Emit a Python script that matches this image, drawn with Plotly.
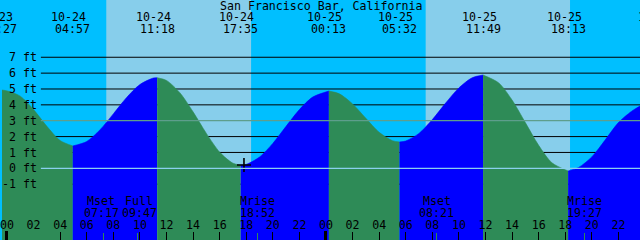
import plotly.graph_objects as go

TITLE = "San Francisco Bar, California"

# Tide level (hours after 10-24 00:00, feet)
CURVE_T = [-1.0, -0.55, 0.0, 1.0, 2.0, 3.0, 4.0, 4.95,
           6.0, 7.0, 8.0, 9.0, 10.0, 11.0, 11.30,
           12.0, 13.0, 14.0, 15.0, 16.0, 17.0, 17.583,
           18.0, 19.0, 20.0, 21.0, 22.0, 23.0, 24.217,
           25.0, 26.0, 27.0, 28.0, 29.0, 29.533,
           30.0, 31.0, 32.0, 33.0, 34.0, 35.0, 35.817,
           37.0, 38.0, 39.0, 40.0, 41.0, 42.217,
           43.0, 44.0, 45.0, 46.0, 47.0, 48.0]
CURVE_H = [4.90, 4.95, 4.88, 4.55, 3.70, 2.65, 1.75, 1.41,
           1.69, 2.43, 3.43, 4.46, 5.28, 5.69, 5.71,
           5.54, 4.77, 3.56, 2.20, 1.02, 0.32, 0.20,
           0.245, 0.71, 1.57, 2.65, 3.70, 4.49, 4.87,
           4.70, 4.06, 3.15, 2.27, 1.74, 1.66,
           1.72, 2.20, 3.07, 4.11, 5.07, 5.71, 5.88,
           5.38, 4.30, 2.88, 1.45, 0.35, -0.17,
           0.05, 0.72, 1.78, 2.88, 3.60, 4.10]

# High / low tide events
TIDE_T = [-0.55, 4.95, 11.30, 17.583, 24.217, 29.533, 35.817, 42.217, 49.09]
TIDE_DATE = ["10-23", "10-24", "10-24", "10-24", "10-25", "10-25", "10-25", "10-25", "10-26"]
TIDE_CLOCK = ["23:27", "04:57", "11:18", "17:35", "00:13", "05:32", "11:49", "18:13", "01:05"]
EXTREME_T = TIDE_T[:8]

# Moon events
MOON_T = [7.283, 9.783, 18.867, 32.35, 43.45]
MOON_NAME = ["Mset", "Full", "Mrise", "Mset", "Mrise"]
MOON_CLOCK = ["07:17", "09:47", "18:52", "08:21", "19:27"]

# Daylight
SUNRISE_T = [7.47, 31.50]
SUNSET_T = [18.38, 42.37]

HOUR_TICKS = [0, 2, 4, 6, 8, 10, 12, 14, 16, 18, 20, 22,
              24, 26, 28, 30, 32, 34, 36, 38, 40, 42, 44, 46, 48]
HOUR_LABELS = ["00", "02", "04", "06", "08", "10", "12", "14", "16", "18", "20", "22",
               "00", "02", "04", "06", "08", "10", "12", "14", "16", "18", "20", "22", "00"]
MIDNIGHT_TICKS = [0, 24]
FT_TICKS = [-1, 0, 1, 2, 3, 4, 5, 6, 7]
FT_LABELS = ["-1 ft", "\u00a00 ft", "\u00a01 ft", "\u00a02 ft", "\u00a03 ft",
             "\u00a04 ft", "\u00a05 ft", "\u00a06 ft", "\u00a07 ft"]
MSL_FT = 3.0
DATUM_FT = 0.0

NOW_T = 17.83
NOW_H = 0.21

X_RANGE = [-0.375, 47.625]
Y_RANGE = [-4.52, 10.61]

# ---- style ----
NIGHT_SKY = "#00BFFF"
DAY_SKY = "#87CEEB"
RISING = "#0000FF"
FALLING = "#2E8B57"
MSL_COLOR = "#5E9E8C"
DATUM_COLOR = "#8AD0EE"
MOON_TICK = "#2E8B57"
FONT = dict(family="DejaVu Sans Mono", size=11.6, color="black")
W, H = 640, 240
GRID_X0 = 39 / W
LABEL_AXIS_POS = 9 / H
MOON_NUDGE = [-2.5, 2, 0, 0, 0]


def paper_x(t):
    return (t - X_RANGE[0]) / (X_RANGE[1] - X_RANGE[0])


fig = go.Figure()

# tide fill, split into rising / falling stretches
bounds = [CURVE_T[0]] + EXTREME_T + [CURVE_T[-1]]
for a, b in zip(bounds[:-1], bounds[1:]):
    ts = [t for t in CURVE_T if a <= t <= b]
    hs = [h for t, h in zip(CURVE_T, CURVE_H) if a <= t <= b]
    if len(ts) < 2:
        continue
    col = RISING if hs[-1] > hs[0] else FALLING
    fig.add_trace(go.Scatter(x=[ts[0], ts[-1]], y=[Y_RANGE[0], Y_RANGE[0]], mode="lines",
                             line=dict(width=0), hoverinfo="skip", showlegend=False))
    fig.add_trace(go.Scatter(x=ts, y=hs, mode="lines",
                             line=dict(width=0.6, color=col, shape="spline", smoothing=0.8),
                             fill="tonexty", fillcolor=col, hoverinfo="skip", showlegend=False))

fig.add_trace(go.Scatter(x=[NOW_T], y=[NOW_H], mode="markers",
                         marker=dict(symbol="cross-thin", size=10,
                                     line=dict(width=1.6, color="black")),
                         hoverinfo="skip", showlegend=False))
# carriers for the extra tick axes
for ax, ay, vals in (("x2", "y2", HOUR_TICKS), ("x3", "y", MIDNIGHT_TICKS),
                     ("x4", "y", MOON_T)):
    fig.add_trace(go.Scatter(x=vals, y=[Y_RANGE[0]] * len(vals), xaxis=ax, yaxis=ay,
                             mode="markers", marker=dict(size=0, opacity=0),
                             hoverinfo="skip", showlegend=False))

shapes = []
edges = [X_RANGE[0]]
for r, s in zip(SUNRISE_T, SUNSET_T):
    edges += [r, s]
edges.append(X_RANGE[1])
for i, (a, b) in enumerate(zip(edges[:-1], edges[1:])):
    shapes.append(dict(type="rect", xref="x", yref="paper", x0=a, x1=b, y0=0, y1=1,
                       fillcolor=DAY_SKY if i % 2 else NIGHT_SKY, line=dict(width=0),
                       layer="below"))
for v in FT_TICKS:
    if v in (MSL_FT, DATUM_FT):
        continue
    shapes.append(dict(type="line", xref="paper", yref="y", x0=GRID_X0, x1=1, y0=v, y1=v,
                       line=dict(color="black", width=1), layer="below"))
for v, c in ((MSL_FT, MSL_COLOR), (DATUM_FT, DATUM_COLOR)):
    shapes.append(dict(type="line", xref="paper", yref="y", x0=GRID_X0, x1=1, y0=v, y1=v,
                       line=dict(color=c, width=1.2), layer="above"))

common_ann = dict(xanchor="center", yanchor="middle", showarrow=False, font=FONT,
                  borderpad=0)
ann = [dict(text=TITLE, xref="paper", yref="paper", x=0.5, y=1 - 5.5 / H, **common_ann)]
for t, d, c in zip(TIDE_T, TIDE_DATE, TIDE_CLOCK):
    ann.append(dict(text=d, xref="paper", yref="paper", x=paper_x(t), y=1 - 17 / H,
                    xshift=-4, **common_ann))
    ann.append(dict(text=c, xref="paper", yref="paper", x=paper_x(t), y=1 - 29 / H,
                    **common_ann))
for t, n, c, dx in zip(MOON_T, MOON_NAME, MOON_CLOCK, MOON_NUDGE):
    ann.append(dict(text=n, xref="x", yref="paper", x=t, y=1 - 201 / H, xshift=dx,
                    **common_ann))
    ann.append(dict(text=c, xref="x", yref="paper", x=t, y=1 - 213 / H, xshift=dx,
                    **common_ann))

axis_common = dict(range=X_RANGE, showgrid=False, zeroline=False, showline=False)
tick_axis = dict(**axis_common, overlaying="x", anchor="y", side="bottom",
                 tickmode="array", ticks="inside", showticklabels=False)
fig.update_layout(
    width=W, height=H, margin=dict(l=0, r=0, t=0, b=0),
    plot_bgcolor=NIGHT_SKY, paper_bgcolor=NIGHT_SKY, font=FONT,
    showlegend=False, shapes=shapes, annotations=ann,
    xaxis=dict(**axis_common, side="top", anchor="free", position=LABEL_AXIS_POS,
               tickmode="array", tickvals=HOUR_TICKS, ticktext=HOUR_LABELS,
               ticks="", tickfont=FONT, tickangle=0, ticklabeloverflow="allow"),
    xaxis2=dict(**tick_axis, tickvals=HOUR_TICKS, ticklen=8, tickwidth=1, tickcolor="black"),
    xaxis3=dict(**tick_axis, tickvals=MIDNIGHT_TICKS, ticklen=9, tickwidth=3,
                tickcolor="black"),
    xaxis4=dict(**tick_axis, tickvals=MOON_T, ticklen=7, tickwidth=1, tickcolor=MOON_TICK),
    yaxis=dict(range=Y_RANGE, showgrid=False, zeroline=False, showline=False,
               showticklabels=False, ticks=""),
    yaxis2=dict(range=Y_RANGE, overlaying="y", anchor="x2", side="left",
                showgrid=False, zeroline=False, showline=False,
                tickmode="array", tickvals=FT_TICKS, ticktext=FT_LABELS, ticks="",
                ticklabelposition="inside", ticklabelstandoff=-3, tickfont=FONT),
)

fig.write_html("out.html")
